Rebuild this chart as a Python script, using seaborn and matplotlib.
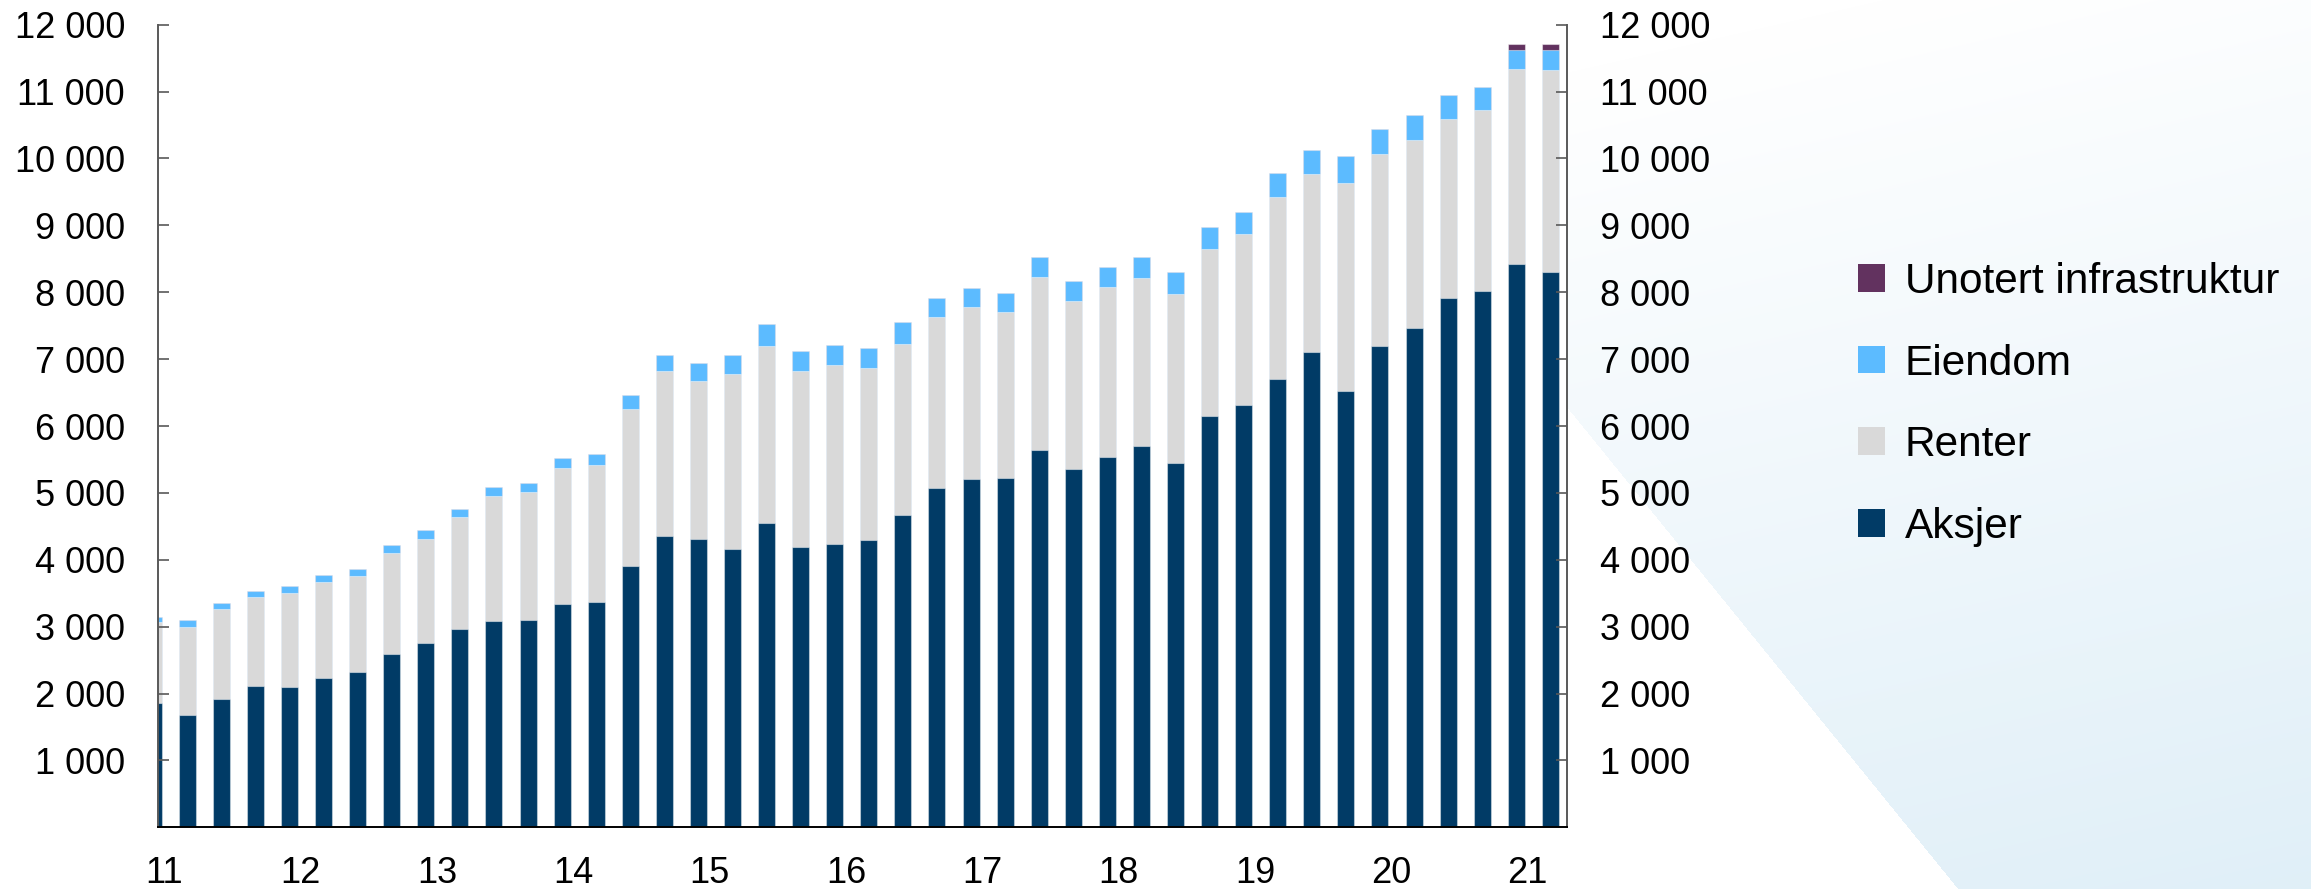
import numpy as np
import pandas as pd
import matplotlib
matplotlib.use("Agg")
import matplotlib.pyplot as plt
import seaborn as sns
from matplotlib.patches import Patch
from matplotlib.ticker import FuncFormatter

# ---------------- data (milliarder kroner, kvartalsvis) ----------------
quarters = [f"{y}K{q}" for y in range(2011, 2022) for q in range(1, 5)][1:43]

aksjer = [1854, 1679, 1918, 2108, 2098, 2228, 2322, 2587, 2760, 2970,
          3077, 3100, 3334, 3374, 3912, 4360, 4311, 4166, 4545, 4196,
          4240, 4296, 4670, 5069, 5203, 5218, 5641, 5353, 5537, 5706,
          5442, 6150, 6314, 6703, 7112, 6524, 7201, 7461, 7909, 8024,
          8418, 8307]
renter = [1220, 1321, 1341, 1335, 1410, 1444, 1431, 1519, 1556, 1665,
          1870, 1909, 2038, 2048, 2338, 2458, 2357, 2607, 2657, 2622,
          2670, 2567, 2556, 2561, 2577, 2492, 2587, 2512, 2537, 2503,
          2527, 2497, 2557, 2726, 2656, 3110, 2862, 2811, 2687, 2696,
          2915, 3016]
eiendom = [75, 95, 95, 95, 95, 95, 104, 120, 125, 125,
           137, 144, 145, 155, 218, 239, 274, 289, 319, 299,
           305, 299, 330, 280, 279, 284, 304, 299, 309, 314,
           334, 329, 329, 350, 361, 404, 378, 374, 354, 354,
           289, 299]
infrastruktur = [0, 0, 0, 0, 0, 0, 0, 0, 0, 0,
                 0, 0, 0, 0, 0, 0, 0, 0, 0, 0,
                 0, 0, 0, 0, 0, 0, 0, 0, 0, 0,
                 0, 0, 0, 0, 0, 0, 0, 0, 0, 0,
                 85, 85]

year_labels = ["11", "12", "13", "14", "15", "16", "17", "18", "19", "20", "21"]
y_ticks = [1000, 2000, 3000, 4000, 5000, 6000, 7000, 8000, 9000, 10000, 11000, 12000]

series_names = ["Aksjer", "Renter", "Eiendom", "Unotert infrastruktur"]
colors = {"Aksjer": "#013B66", "Renter": "#D9D9D9",
          "Eiendom": "#5CBBFF", "Unotert infrastruktur": "#62325F"}

df = pd.DataFrame({"kvartal": quarters, "Aksjer": aksjer, "Renter": renter,
                   "Eiendom": eiendom, "Unotert infrastruktur": infrastruktur})
cum = df[series_names].cumsum(axis=1)
for name in series_names:
    df["cum_" + name] = cum[name]

# ---------------- figure ----------------
plt.rcParams["font.family"] = ["Liberation Sans", "DejaVu Sans"]
W, H = 2311, 889
fig = plt.figure(figsize=(W / 100, H / 100), dpi=100, facecolor="white")

# decorative light-blue gradient background (bottom right)
bg = fig.add_axes([0, 0, 1, 1], zorder=-5)
yy, xx = np.mgrid[0:H, 0:W].astype(float)
x_line = 1600 + (yy - 448) * (358 / 441)
inside = xx > x_line
t = np.clip((yy / H) * 0.9 + (xx - 1236) / 1075 * 0.25 - 0.15, 0, 1)
base = np.array([0.878, 0.938, 0.972])
img = np.ones((H, W, 4))
for c in range(3):
    img[..., c] = 1 - t * (1 - base[c])
img[..., 3] = inside.astype(float)
bg.imshow(img, extent=(0, W, H, 0), aspect="auto", interpolation="bilinear")
bg.set_xlim(0, W)
bg.set_ylim(H, 0)
bg.axis("off")

ax = fig.add_axes([158.3 / W, 1 - 827.3 / H, (1566.7 - 158.3) / W, (827.3 - 24.7) / H], zorder=1)
ax.set_facecolor("white")

for name in reversed(series_names):
    sns.barplot(data=df, x="kvartal", y="cum_" + name, color=colors[name],
                saturation=1, width=0.5, errorbar=None, ax=ax,
                edgecolor=(1, 1, 1, 0.45), linewidth=0.8)

ax.set_xlabel("")
ax.set_ylabel("")
ax.set_xlim(0.15, 41.48)
ax.set_ylim(0, 12000)

ax.set_xticks([4 * j + 0.33 for j in range(len(year_labels))])
ax.set_xticklabels(year_labels)
ax.set_yticks(y_ticks)
ax.yaxis.set_major_formatter(FuncFormatter(lambda v, p: f"{v:,.0f}".replace(",", " ")))

ax.tick_params(axis="x", length=0, pad=21, labelsize=26, colors="black")
ax.tick_params(axis="y", direction="in", length=8, width=1.2, color="#595959",
               labelsize=26, pad=24, left=True, right=True,
               labelleft=True, labelright=True, labelcolor="black")

for side in ["left", "right"]:
    ax.spines[side].set_color("#595959")
    ax.spines[side].set_linewidth(1.4)
ax.spines["bottom"].set_color("black")
ax.spines["bottom"].set_linewidth(1.4)
ax.spines["top"].set_visible(False)
ax.grid(False)

handles = [Patch(facecolor=colors[n], edgecolor="none") for n in reversed(series_names)]
fig.legend(handles, list(reversed(series_names)), loc="upper left",
           bbox_to_anchor=(1858 / W, 1 - 262 / H), frameon=False, fontsize=30.5,
           handlelength=0.63, handleheight=0.63, handletextpad=0.47,
           labelspacing=0.98, borderpad=0, borderaxespad=0)

fig.savefig("out.png", dpi=100, facecolor="white")
